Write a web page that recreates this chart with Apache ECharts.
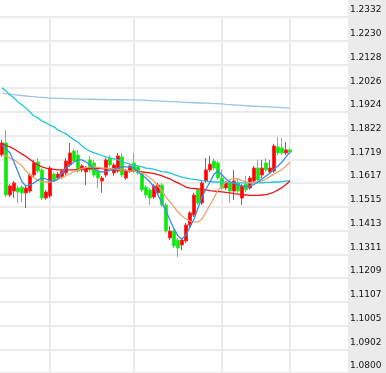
<!DOCTYPE html>
<html>
<head>
<meta charset="utf-8">
<script src="https://cdn.jsdelivr.net/npm/echarts@6/dist/echarts.min.js"></script>
<style>
html,body{margin:0;padding:0;background:#fff;}
#chart{width:386px;height:373px;}
</style>
</head>
<body>
<div id="chart"></div>
<script>
// ---- data ----
const totalSlots = 87; // category slots on the axis (incl. empty future slots)
const categories = Array.from({length: totalSlots}, (_, i) => 'D' + (i + 1));

// [open, close, low, high]
const ohlc = [
[1.1738,1.1790,1.1730,1.1803],[1.1790,1.1566,1.1557,1.1846],[1.1566,1.1605,1.1557,1.1613],[1.1583,1.1618,1.1553,1.1626],
[1.1596,1.1579,1.1532,1.1605],[1.1600,1.1575,1.1536,1.1609],[1.1575,1.1596,1.1510,1.1605],[1.1583,1.1652,1.1575,1.1661],
[1.1652,1.1704,1.1643,1.1717],[1.1708,1.1669,1.1661,1.1725],[1.1674,1.1553,1.1545,1.1682],[1.1553,1.1579,1.1545,1.1588],
[1.1562,1.1682,1.1553,1.1691],[1.1656,1.1631,1.1622,1.1665],[1.1639,1.1656,1.1631,1.1665],[1.1643,1.1669,1.1635,1.1678],
[1.1661,1.1712,1.1652,1.1725],[1.1695,1.1747,1.1687,1.1790],[1.1755,1.1712,1.1704,1.1764],[1.1738,1.1669,1.1661,1.1760],
[1.1674,1.1691,1.1665,1.1699],[1.1665,1.1682,1.1609,1.1691],[1.1717,1.1674,1.1665,1.1734],[1.1704,1.1652,1.1643,1.1717],
[1.1669,1.1639,1.1596,1.1678],[1.1626,1.1639,1.1575,1.1648],[1.1652,1.1717,1.1643,1.1725],[1.1725,1.1695,1.1687,1.1738],
[1.1661,1.1695,1.1648,1.1704],[1.1669,1.1734,1.1661,1.1747],[1.1730,1.1652,1.1643,1.1747],[1.1639,1.1669,1.1631,1.1678],
[1.1669,1.1691,1.1661,1.1699],[1.1704,1.1669,1.1661,1.1747],[1.1687,1.1661,1.1652,1.1695],[1.1661,1.1588,1.1579,1.1669],
[1.1600,1.1566,1.1553,1.1609],[1.1588,1.1553,1.1523,1.1596],[1.1557,1.1605,1.1549,1.1613],[1.1575,1.1609,1.1566,1.1618],
[1.1609,1.1523,1.1514,1.1618],[1.1523,1.1411,1.1403,1.1532],[1.1381,1.1411,1.1372,1.1433],[1.1411,1.1347,1.1338,1.1420],
[1.1372,1.1338,1.1299,1.1381],[1.1351,1.1372,1.1329,1.1381],[1.1368,1.1437,1.1359,1.1446],[1.1437,1.1489,1.1428,1.1497],
[1.1480,1.1566,1.1471,1.1575],[1.1588,1.1532,1.1523,1.1596],[1.1532,1.1618,1.1523,1.1626],[1.1626,1.1674,1.1618,1.1725],
[1.1674,1.1699,1.1665,1.1734],[1.1712,1.1682,1.1674,1.1725],[1.1704,1.1639,1.1631,1.1712],[1.1639,1.1596,1.1588,1.1674],
[1.1596,1.1618,1.1588,1.1626],[1.1618,1.1583,1.1532,1.1626],[1.1583,1.1626,1.1545,1.1674],[1.1618,1.1583,1.1575,1.1639],
[1.1553,1.1605,1.1523,1.1613],[1.1613,1.1588,1.1579,1.1648],[1.1596,1.1639,1.1588,1.1648],[1.1626,1.1682,1.1618,1.1691],
[1.1682,1.1631,1.1622,1.1717],[1.1652,1.1682,1.1639,1.1717],[1.1704,1.1674,1.1665,1.1725],[1.1665,1.1682,1.1656,1.1717],
[1.1669,1.1777,1.1661,1.1786],[1.1773,1.1747,1.1738,1.1816],[1.1768,1.1747,1.1738,1.1811],[1.1747,1.1760,1.1738,1.1794],
[1.1760,1.1751,1.1742,1.1768]
];

const maFast = [1.1781,1.1764,1.1747,1.1708,1.1665,1.1622,1.1605,1.1609,1.1618,1.1631,1.1639,1.1635,1.1626,1.1626,1.1635,1.1661,1.1682,1.1695,1.1708,1.1717,1.1717,1.1708,1.1695,1.1678,1.1669,1.1665,1.1667,1.1672,1.1676,1.1682,1.1687,1.1687,1.1687,1.1682,1.1665,1.1652,1.1639,1.1622,1.1600,1.1566,1.1532,1.1497,1.1458,1.1420,1.1390,1.1377,1.1394,1.1428,1.1463,1.1510,1.1557,1.1592,1.1622,1.1656,1.1669,1.1652,1.1635,1.1622,1.1616,1.1609,1.1605,1.1602,1.1605,1.1611,1.1622,1.1635,1.1648,1.1661,1.1678,1.1691,1.1708,1.1730,1.1751];

const maMid = [1.1740,1.1734,1.1725,1.1717,1.1706,1.1691,1.1669,1.1652,1.1639,1.1628,1.1624,1.1622,1.1622,1.1626,1.1633,1.1641,1.1650,1.1658,1.1667,1.1674,1.1680,1.1685,1.1687,1.1687,1.1685,1.1682,1.1682,1.1680,1.1678,1.1676,1.1674,1.1672,1.1669,1.1669,1.1665,1.1661,1.1652,1.1639,1.1626,1.1605,1.1583,1.1557,1.1536,1.1514,1.1493,1.1476,1.1463,1.1454,1.1450,1.1450,1.1463,1.1493,1.1523,1.1553,1.1588,1.1605,1.1622,1.1631,1.1637,1.1635,1.1628,1.1622,1.1618,1.1618,1.1622,1.1626,1.1635,1.1646,1.1656,1.1665,1.1676,1.1691,1.1708];

const maSlow = [1.1786,1.1779,1.1773,1.1764,1.1753,1.1742,1.1732,1.1719,1.1706,1.1695,1.1687,1.1682,1.1678,1.1676,1.1674,1.1674,1.1674,1.1674,1.1674,1.1676,1.1678,1.1678,1.1680,1.1680,1.1680,1.1680,1.1678,1.1678,1.1676,1.1674,1.1674,1.1672,1.1669,1.1669,1.1667,1.1665,1.1663,1.1661,1.1658,1.1654,1.1648,1.1641,1.1635,1.1626,1.1618,1.1609,1.1600,1.1596,1.1594,1.1592,1.1590,1.1588,1.1585,1.1583,1.1581,1.1579,1.1577,1.1575,1.1572,1.1570,1.1568,1.1566,1.1564,1.1564,1.1564,1.1566,1.1568,1.1572,1.1579,1.1588,1.1598,1.1611,1.1626];

const maLong = [1.2027,1.2014,1.1996,1.1984,1.1966,1.1953,1.1940,1.1923,1.1906,1.1897,1.1884,1.1876,1.1867,1.1859,1.1846,1.1837,1.1829,1.1816,1.1803,1.1794,1.1777,1.1764,1.1755,1.1747,1.1742,1.1736,1.1730,1.1725,1.1721,1.1717,1.1710,1.1704,1.1699,1.1695,1.1691,1.1687,1.1682,1.1680,1.1676,1.1672,1.1667,1.1665,1.1661,1.1654,1.1648,1.1643,1.1639,1.1635,1.1633,1.1631,1.1628,1.1626,1.1624,1.1622,1.1622,1.1622,1.1620,1.1620,1.1618,1.1618,1.1618,1.1618,1.1618,1.1618,1.1618,1.1618,1.1620,1.1620,1.1622,1.1622,1.1624,1.1626,1.1628];

const maLonger = [1.2004,1.2002,1.2000,1.1998,1.1996,1.1994,1.1992,1.1990,1.1989,1.1987,1.1986,1.1985,1.1983,1.1983,1.1982,1.1982,1.1981,1.1981,1.1980,1.1980,1.1979,1.1979,1.1978,1.1978,1.1977,1.1977,1.1977,1.1976,1.1976,1.1976,1.1976,1.1975,1.1975,1.1975,1.1974,1.1974,1.1973,1.1972,1.1971,1.1971,1.1970,1.1969,1.1968,1.1968,1.1967,1.1966,1.1965,1.1964,1.1963,1.1962,1.1962,1.1961,1.1960,1.1959,1.1959,1.1958,1.1956,1.1955,1.1954,1.1953,1.1952,1.1950,1.1949,1.1948,1.1947,1.1946,1.1946,1.1945,1.1944,1.1943,1.1942,1.1941,1.1940];

const yTickLabels = ['1.0800','1.0902','1.1005','1.1107','1.1209','1.1311','1.1413','1.1515','1.1617','1.1719','1.1822','1.1924','1.2026','1.2128','1.2230','1.2332'];
const yMin = 1.0800, yMax = 1.2332;
const monthBreaks = [12, 33, 55, 72];

// ---- chart ----
const yStep = (yMax - yMin) / (yTickLabels.length - 1);
const chart = echarts.init(document.getElementById('chart'), null, {renderer: 'canvas'});
const maLine = (data, color) => ({
  type: 'line', data, showSymbol: false, symbol: 'none', silent: true,
  lineStyle: {color, width: 1.3}, z: 3
});
chart.setOption({
  animation: false,
  backgroundColor: '#ffffff',
  graphic: [{
    type: 'rect', left: 348, top: 0, z: -10, silent: true,
    shape: {width: 38, height: 373}, style: {fill: '#ebebeb'}
  }],
  grid: {left: 0, right: 38, top: 17, bottom: 0, containLabel: false},
  xAxis: {
    type: 'category', data: categories, boundaryGap: true,
    axisLine: {show: false}, axisTick: {show: false}, axisLabel: {show: false},
    splitLine: {
      show: true, alignWithLabel: true,
      interval: (idx) => monthBreaks.includes(idx),
      lineStyle: {color: '#ebebeb', width: 2}
    }
  },
  yAxis: {
    type: 'value', position: 'right', min: yMin, max: yMax, interval: yStep,
    axisLine: {show: false}, axisTick: {show: false},
    splitLine: {show: true, lineStyle: {color: '#ebebeb', width: 2}},
    axisLabel: {
      margin: 2, color: '#111', fontSize: 9, fontFamily: 'DejaVu Sans',
      verticalAlign: 'bottom', lineHeight: 14, showMinLabel: true, showMaxLabel: true,
      formatter: (v) => yTickLabels[Math.round((v - yMin) / yStep)]
    }
  },
  series: [
    maLine(maLonger, '#9cc4e2'),
    maLine(maLong, '#22c6d8'),
    maLine(maSlow, '#ee1414'),
    maLine(maMid, '#eaa46e'),
    maLine(maFast, '#3a8ce8'),
    {
      type: 'candlestick', data: ohlc, barWidth: 3, z: 2,
      itemStyle: {
        color: '#ff0000', color0: '#11e611',
        borderColor: '#ff3030', borderColor0: '#33ee33', borderWidth: 1
      }
    }
  ]
});
</script>
</body>
</html>
